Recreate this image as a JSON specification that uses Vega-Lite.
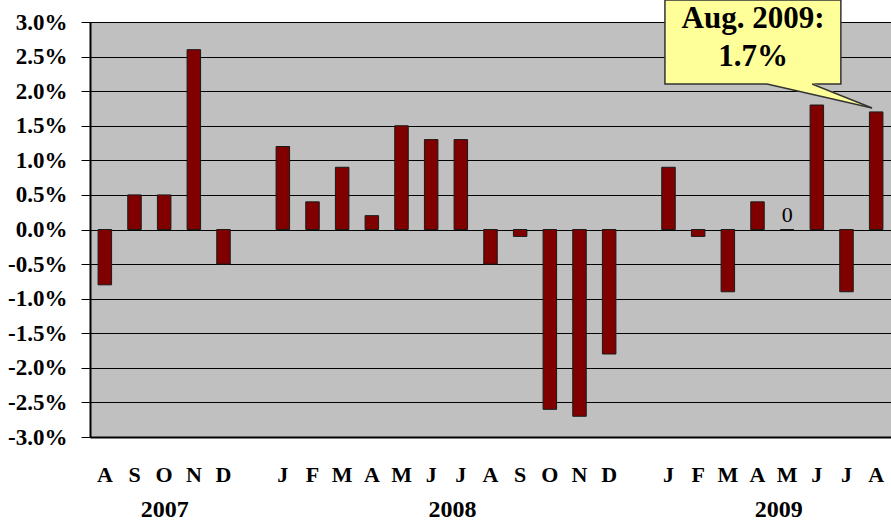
{
  "$schema": "https://vega.github.io/schema/vega-lite/v6.json",
  "width": 801,
  "height": 415,
  "autosize": {"type": "none"},
  "padding": {"left": 90, "top": 22, "right": 0, "bottom": 86},
  "background": "white",
  "config": {"view": {"fill": "#C0C0C0", "stroke": null}, "font": "Liberation Serif"},
  "datasets": {
    "cpi": [
      {"key": "2007-08", "value": -0.8},
      {"key": "2007-09", "value": 0.5},
      {"key": "2007-10", "value": 0.5},
      {"key": "2007-11", "value": 2.6},
      {"key": "2007-12", "value": -0.5},
      {"key": "2008-01", "value": 1.2},
      {"key": "2008-02", "value": 0.4},
      {"key": "2008-03", "value": 0.9},
      {"key": "2008-04", "value": 0.2},
      {"key": "2008-05", "value": 1.5},
      {"key": "2008-06", "value": 1.3},
      {"key": "2008-07", "value": 1.3},
      {"key": "2008-08", "value": -0.5},
      {"key": "2008-09", "value": -0.1},
      {"key": "2008-10", "value": -2.6},
      {"key": "2008-11", "value": -2.7},
      {"key": "2008-12", "value": -1.8},
      {"key": "2009-01", "value": 0.9},
      {"key": "2009-02", "value": -0.1},
      {"key": "2009-03", "value": -0.9},
      {"key": "2009-04", "value": 0.4},
      {"key": "2009-05", "value": 0},
      {"key": "2009-06", "value": 1.8},
      {"key": "2009-07", "value": -0.9},
      {"key": "2009-08", "value": 1.7}
    ],
    "years": [
      {"year": "2007", "mid": 2.5},
      {"year": "2008", "mid": 12.2},
      {"year": "2009", "mid": 23.2}
    ],
    "callout": [
      {"label": "Aug. 2009:\n1.7%", "x1": 19.38, "x2": 25.31, "ytop": 3.318, "ybot": 2.104, "xc": 22.35, "yc": 3.043}
    ],
    "pointer": [
      {"px": 22.82, "py": 2.12, "py2": 2.104},
      {"px": 24.34, "py": 2.12, "py2": 1.955},
      {"px": 26.36, "py": 1.757, "py2": 1.757}
    ],
    "pointerEdges": [
      {"edge": "a", "px": 22.82, "py": 2.104},
      {"edge": "a", "px": 26.36, "py": 1.757},
      {"edge": "b", "px": 24.34, "py": 2.104},
      {"edge": "b", "px": 26.36, "py": 1.757}
    ]
  },
  "layer": [
    {
      "layer": [
        {
          "data": {"name": "cpi"},
          "mark": {"type": "bar", "fill": "#800000", "stroke": "#1a1a1a", "strokeWidth": 1},
          "encoding": {
            "x": {
              "field": "key",
              "type": "ordinal",
              "scale": {
                "domain": ["2007-08","2007-09","2007-10","2007-11","2007-12","gap-a","2008-01","2008-02","2008-03","2008-04","2008-05","2008-06","2008-07","2008-08","2008-09","2008-10","2008-11","2008-12","gap-b","2009-01","2009-02","2009-03","2009-04","2009-05","2009-06","2009-07","2009-08"],
                "paddingInner": 0.545,
                "paddingOuter": 0.2725
              },
              "axis": {
                "title": null,
                "orient": "bottom",
                "ticks": false,
                "tickSize": 0,
                "grid": false,
                "domain": true,
                "domainColor": "#000000",
                "domainWidth": 2,
                "labelAngle": 0,
                "labelOverlap": false,
                "labelPadding": 27,
                "labelFont": "Liberation Serif",
                "labelFontWeight": "bold",
                "labelFontSize": 22,
                "labelColor": "#000000",
                "labelExpr": "length(datum.value) < 7 ? '' : substring('JFMAMJJASOND', toNumber(substring(datum.value, 5, 7)) - 1, toNumber(substring(datum.value, 5, 7)))"
              }
            },
            "y": {
              "field": "value",
              "type": "quantitative",
              "scale": {"domain": [-3, 3], "nice": false, "zero": false},
              "axis": {
                "title": null,
                "values": [-3, -2.5, -2, -1.5, -1, -0.5, 0, 0.5, 1, 1.5, 2, 2.5, 3],
                "labelExpr": "(datum.value < 0 ? '-' : '') + format(abs(datum.value), '.1f') + '%'",
                "labelOverlap": false,
                "grid": true,
                "gridColor": "#000000",
                "gridWidth": 1,
                "gridOpacity": 1,
                "tickColor": "#000000",
                "tickSize": 9,
                "tickWidth": 1,
                "domainColor": "#000000",
                "domainWidth": 2,
                "labelFont": "Liberation Serif",
                "labelFontWeight": "bold",
                "labelFontSize": 23,
                "labelColor": "#000000",
                "labelPadding": 14
              }
            }
          }
        },
        {
          "data": {"name": "cpi"},
          "transform": [{"filter": "datum.value === 0"}],
          "mark": {"type": "text", "baseline": "bottom", "align": "center", "dy": -3, "fontSize": 22, "font": "Liberation Serif", "color": "#000000"},
          "encoding": {
            "x": {"field": "key", "type": "ordinal", "axis": {"title": null}},
            "y": {
              "field": "value",
              "type": "quantitative",
              "axis": {
                "title": null,
                "values": [-3, -2.5, -2, -1.5, -1, -0.5, 0, 0.5, 1, 1.5, 2, 2.5, 3],
                "labelExpr": "(datum.value < 0 ? '-' : '') + format(abs(datum.value), '.1f') + '%'",
                "labelOverlap": false,
                "grid": true,
                "gridColor": "#000000",
                "gridWidth": 1,
                "gridOpacity": 1,
                "tickColor": "#000000",
                "tickSize": 9,
                "tickWidth": 1,
                "domainColor": "#000000",
                "domainWidth": 2,
                "labelFont": "Liberation Serif",
                "labelFontWeight": "bold",
                "labelFontSize": 23,
                "labelColor": "#000000",
                "labelPadding": 14
              }
            },
            "text": {"field": "value", "type": "quantitative"}
          }
        }
      ]
    },
    {
      "layer": [
        {
          "data": {"name": "years"},
          "mark": {"type": "rule", "opacity": 0},
          "encoding": {
            "x": {
              "field": "mid",
              "type": "quantitative",
              "scale": {"domain": [0, 27], "nice": false, "zero": false},
              "axis": {
                "title": null,
                "orient": "bottom",
                "values": [2.5, 12.2, 23.2],
                "labelExpr": "datum.value < 5 ? '2007' : datum.value < 18 ? '2008' : '2009'",
                "domain": false,
                "ticks": false,
                "tickSize": 0,
                "grid": false,
                "labelFlush": false,
                "labelPadding": 60,
                "labelFont": "Liberation Serif",
                "labelFontWeight": "bold",
                "labelFontSize": 24,
                "labelColor": "#000000"
              }
            }
          }
        },
        {
          "data": {"name": "callout"},
          "mark": {"type": "rect", "fill": "#FFFF99", "stroke": "#333333", "strokeWidth": 1.5},
          "encoding": {
            "x": {"field": "x1", "type": "quantitative", "scale": {"domain": [0, 27], "nice": false, "zero": false}, "axis": {"title": null}},
            "x2": {"field": "x2"},
            "y": {
              "field": "ytop",
              "type": "quantitative",
              "axis": {
                "title": null,
                "values": [-3, -2.5, -2, -1.5, -1, -0.5, 0, 0.5, 1, 1.5, 2, 2.5, 3],
                "labelExpr": "(datum.value < 0 ? '-' : '') + format(abs(datum.value), '.1f') + '%'",
                "labelOverlap": false,
                "grid": true,
                "gridColor": "#000000",
                "gridWidth": 1,
                "gridOpacity": 1,
                "tickColor": "#000000",
                "tickSize": 9,
                "tickWidth": 1,
                "domainColor": "#000000",
                "domainWidth": 2,
                "labelFont": "Liberation Serif",
                "labelFontWeight": "bold",
                "labelFontSize": 23,
                "labelColor": "#000000",
                "labelPadding": 14
              }
            },
            "y2": {"field": "ybot"}
          }
        },
        {
          "data": {"name": "pointer"},
          "mark": {"type": "area", "fill": "#FFFF99", "orient": "vertical"},
          "encoding": {
            "x": {"field": "px", "type": "quantitative", "axis": {"title": null}},
            "y": {
              "field": "py",
              "type": "quantitative",
              "axis": {
                "title": null,
                "values": [-3, -2.5, -2, -1.5, -1, -0.5, 0, 0.5, 1, 1.5, 2, 2.5, 3],
                "labelExpr": "(datum.value < 0 ? '-' : '') + format(abs(datum.value), '.1f') + '%'",
                "labelOverlap": false,
                "grid": true,
                "gridColor": "#000000",
                "gridWidth": 1,
                "gridOpacity": 1,
                "tickColor": "#000000",
                "tickSize": 9,
                "tickWidth": 1,
                "domainColor": "#000000",
                "domainWidth": 2,
                "labelFont": "Liberation Serif",
                "labelFontWeight": "bold",
                "labelFontSize": 23,
                "labelColor": "#000000",
                "labelPadding": 14
              }
            },
            "y2": {"field": "py2"}
          }
        },
        {
          "data": {"name": "pointerEdges"},
          "mark": {"type": "line", "stroke": "#333333", "strokeWidth": 1.5},
          "encoding": {
            "x": {"field": "px", "type": "quantitative", "axis": {"title": null}},
            "y": {
              "field": "py",
              "type": "quantitative",
              "axis": {
                "title": null,
                "values": [-3, -2.5, -2, -1.5, -1, -0.5, 0, 0.5, 1, 1.5, 2, 2.5, 3],
                "labelExpr": "(datum.value < 0 ? '-' : '') + format(abs(datum.value), '.1f') + '%'",
                "labelOverlap": false,
                "grid": true,
                "gridColor": "#000000",
                "gridWidth": 1,
                "gridOpacity": 1,
                "tickColor": "#000000",
                "tickSize": 9,
                "tickWidth": 1,
                "domainColor": "#000000",
                "domainWidth": 2,
                "labelFont": "Liberation Serif",
                "labelFontWeight": "bold",
                "labelFontSize": 23,
                "labelColor": "#000000",
                "labelPadding": 14
              }
            },
            "detail": {"field": "edge"}
          }
        },
        {
          "data": {"name": "callout"},
          "mark": {"type": "text", "lineBreak": "\n", "fontSize": 31, "fontWeight": "bold", "font": "Liberation Serif", "lineHeight": 38, "align": "center", "baseline": "middle", "color": "#000000"},
          "encoding": {
            "x": {"field": "xc", "type": "quantitative", "axis": {"title": null}},
            "y": {
              "field": "yc",
              "type": "quantitative",
              "axis": {
                "title": null,
                "values": [-3, -2.5, -2, -1.5, -1, -0.5, 0, 0.5, 1, 1.5, 2, 2.5, 3],
                "labelExpr": "(datum.value < 0 ? '-' : '') + format(abs(datum.value), '.1f') + '%'",
                "labelOverlap": false,
                "grid": true,
                "gridColor": "#000000",
                "gridWidth": 1,
                "gridOpacity": 1,
                "tickColor": "#000000",
                "tickSize": 9,
                "tickWidth": 1,
                "domainColor": "#000000",
                "domainWidth": 2,
                "labelFont": "Liberation Serif",
                "labelFontWeight": "bold",
                "labelFontSize": 23,
                "labelColor": "#000000",
                "labelPadding": 14
              }
            },
            "text": {"field": "label"}
          }
        }
      ]
    }
  ],
  "resolve": {"scale": {"x": "independent"}, "axis": {"x": "independent"}}
}
